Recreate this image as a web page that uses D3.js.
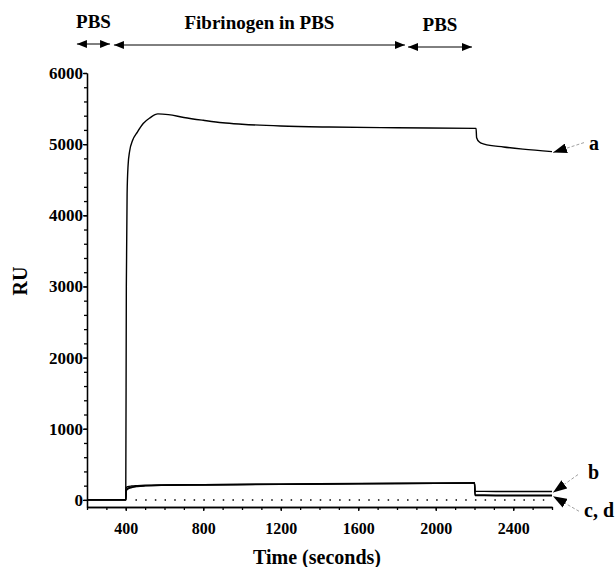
<!DOCTYPE html>
<html>
<head>
<meta charset="utf-8">
<script src="https://cdn.jsdelivr.net/npm/d3@7"></script>
<style>
body{margin:0;background:#fff;}
svg text{font-family:"Liberation Serif","Times New Roman","DejaVu Serif",serif !important;font-weight:bold;fill:#000;}
.curve{fill:none;stroke:#000;stroke-width:1.4;}
.axis path,.axis line{stroke:#000;stroke-width:1.3;}
</style>
</head>
<body>
<svg id="chart" width="616" height="567"></svg>
<script>
// sensorgram, values
var timeA=[200,400,403,407,412,420,435,460,490,525,566,620,700,800,900,1000,1200,1450,1800,2208,2211,2225,2250,2350,2450,2600];
var ruA=[0,0,3000,4300,4700,4900,5050,5170,5290,5370,5425,5415,5375,5335,5300,5280,5255,5240,5230,5222,5090,5030,5000,4960,4930,4895];

var timeBCD=[200,400,402,410,430,460,500,600,800,1200,1600,2000,2200,2203,2250,2400,2600];
var ruB=[0,0,170,185,195,200,205,210,215,222,230,236,240,122,120,118,117];
var ruC=[0,0,140,160,180,192,200,207,212,220,228,234,238,72,68,66,65];
var ruD=[0,0,125,150,172,188,197,205,210,218,226,232,236,62,60,58,57];

var zeroLine=[450,2560];

var phases=["PBS","Fibrinogen in PBS","PBS"];
var phaseStart=[148,339,1857];
var phaseEnd=[319,1841,2187];

var xMajor=[400,800,1200,1600,2000,2400];
var yMajor=[0,1000,2000,3000,4000,5000,6000];

var serif='"Liberation Serif","Times New Roman","DejaVu Serif",serif';
var svg=d3.select("#chart");

var x=d3.scaleLinear().domain([200,2600]).range([87,552]);
var y=d3.scaleLinear().domain([-100,6000]).range([507,73]);

// axes: minor ticks first then labelled ones
svg.append("g").attr("class","axis")
  .attr("transform","translate(0,507)")
  .call(d3.axisBottom(x).tickValues(d3.range(200,2601,100)).tickFormat("").tickSize(3).tickSizeOuter(0));
var xa=svg.append("g").attr("class","axis")
  .attr("transform","translate(0,507)")
  .call(d3.axisBottom(x).tickValues(xMajor).tickFormat(d3.format("d")).tickSize(4).tickSizeOuter(0).tickPadding(12));
xa.attr("font-family",serif).selectAll("text").attr("font-size",16).style("font-family",serif);

svg.append("g").attr("class","axis")
  .attr("transform","translate(87,0)")
  .call(d3.axisLeft(y).tickValues(d3.range(0,6001,200)).tickFormat("").tickSize(3).tickSizeOuter(0));
var ya=svg.append("g").attr("class","axis")
  .attr("transform","translate(87,0)")
  .call(d3.axisLeft(y).tickValues(yMajor).tickFormat(d3.format("d")).tickSize(4).tickSizeOuter(0).tickPadding(0));
ya.attr("font-family",serif).selectAll("text").attr("font-size",17).style("font-family",serif);

svg.append("text").attr("transform","translate(27,281) rotate(-90)")
  .attr("text-anchor","middle").attr("font-size",20).style("font-family",serif).text("RU");
svg.append("text").attr("x",317).attr("y",564)
  .attr("text-anchor","middle").attr("font-size",20).style("font-family",serif).text("Time (seconds)");

// zero reference
svg.append("line")
  .attr("x1",x(zeroLine[0])).attr("x2",x(zeroLine[1]))
  .attr("y1",y(0)).attr("y2",y(0))
  .attr("stroke","#000").attr("stroke-width",1.5).attr("stroke-dasharray","1.5,8.2");

var line=d3.line().curve(d3.curveMonotoneX);
function drawCurve(ts,vs){
  var pts=ts.map(function(t,i){return [x(t),y(vs[i])];});
  svg.append("path").attr("class","curve").attr("d",line(pts));
}
drawCurve(timeBCD,ruD);
drawCurve(timeBCD,ruC);
drawCurve(timeBCD,ruB);
drawCurve(timeA,ruA);

// arrow heads
var defs=svg.append("defs");
defs.append("marker").attr("id","head").attr("viewBox","0 0 10 8")
  .attr("refX",10).attr("refY",4).attr("markerWidth",10).attr("markerHeight",8)
  .attr("markerUnits","userSpaceOnUse").attr("orient","auto-start-reverse")
  .append("path").attr("d","M0,0L10,4L0,8Z").attr("fill","#000");
defs.append("marker").attr("id","bighead").attr("viewBox","0 0 14 10")
  .attr("refX",14).attr("refY",5).attr("markerWidth",14).attr("markerHeight",10)
  .attr("markerUnits","userSpaceOnUse").attr("orient","auto")
  .append("path").attr("d","M0,0L14,5L0,10Z").attr("fill","#000");

// phase bars across the top
var phaseY=[44,45,47];
phases.forEach(function(p,i){
  svg.append("line")
    .attr("x1",x(phaseStart[i])).attr("x2",x(phaseEnd[i]))
    .attr("y1",phaseY[i]).attr("y2",phaseY[i])
    .attr("stroke","#000").attr("stroke-width",1)
    .attr("marker-start","url(#head)").attr("marker-end","url(#head)");
  svg.append("text")
    .attr("x",(x(phaseStart[i])+x(phaseEnd[i]))/2)
    .attr("y",phaseY[i]-16)
    .attr("text-anchor","middle").attr("font-size",19).style("font-family",serif).text(p);
});

// curve labels
var labels=[
  {t:"a",v:ruA[ruA.length-1],dx:31,dy:-10,tx:36,ty:-3},
  {t:"b",v:ruB[ruB.length-1],dx:25,dy:-18,tx:35,ty:-14},
  {t:"c, d",v:ruC[ruC.length-1],dx:26,dy:15,tx:31,ty:21}
];
labels.forEach(function(l){
  var ex=x(2600)+1, ey=y(l.v)+1;
  svg.append("line")
    .attr("x1",ex+l.dx).attr("y1",ey+l.dy).attr("x2",ex).attr("y2",ey)
    .attr("stroke","#888").attr("stroke-width",0.8).attr("stroke-dasharray","3,2")
    .attr("marker-end","url(#bighead)");
  svg.append("text").attr("x",ex+l.tx).attr("y",ey+l.ty)
    .attr("font-size",20).style("font-family",serif).text(l.t);
});
</script>
</body>
</html>
